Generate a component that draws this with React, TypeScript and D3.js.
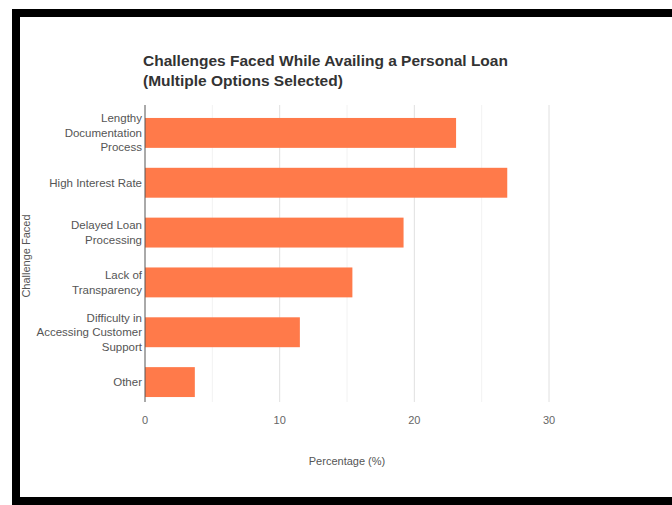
import React from "react";
import * as d3 from "d3";

const categories: string[][] = [
  ["Lengthy", "Documentation", "Process"],
  ["High Interest Rate"],
  ["Delayed Loan", "Processing"],
  ["Lack of", "Transparency"],
  ["Difficulty in", "Accessing Customer", "Support"],
  ["Other"],
];
const values: number[] = [23.1, 26.9, 19.2, 15.4, 11.5, 3.7];
const majorTicks: number[] = [0, 10, 20, 30];
const minorTicks: number[] = [5, 15, 25];
const titleLines = ["Challenges Faced While Availing a Personal Loan", "(Multiple Options Selected)"];
const xTitle = "Percentage (%)";
const yTitle = "Challenge Faced";

const W = 672;
const H = 505;
const left = 145;
const right = 549;
const top = 108;
const bottom = 407;

export default function App() {
  const x = d3.scaleLinear().domain([0, 30]).range([left, right]);
  const keys = categories.map((c) => c.join(" "));
  const y = d3.scaleBand<string>().domain(keys).range([top, bottom]).paddingInner(0.4).paddingOuter(0.2);
  const font = "'Liberation Sans', Arial, sans-serif";
  return (
    <svg width={W} height={H} style={{ position: "absolute", left: 0, top: 0, background: "#fff" }} fontFamily={font}>
      <rect x={0} y={0} width={W} height={H} fill="#fff" />
      {/* frame */}
      <rect x={12} y={9} width={8} height={H - 9} fill="#000" />
      <rect x={12} y={9} width={W - 12} height={8} fill="#000" />
      <rect x={12} y={497} width={W - 12} height={8} fill="#000" />
      {/* title */}
      {titleLines.map((t, i) => (
        <text key={i} x={143} y={66 + i * 20} fontSize={15.5} fontWeight="bold" fill="#333">
          {t}
        </text>
      ))}
      {/* grid */}
      {minorTicks.map((t) => (
        <line key={"m" + t} x1={x(t)} x2={x(t)} y1={105} y2={402} stroke="#f2f2f2" strokeWidth={1} />
      ))}
      {majorTicks.filter((t) => t > 0).map((t) => (
        <line key={"g" + t} x1={x(t)} x2={x(t)} y1={105} y2={402} stroke="#e0e0e0" strokeWidth={1} />
      ))}
      {/* bars */}
      {values.map((v, i) => (
        <rect key={i} x={x(0)} y={y(keys[i])} width={x(v) - x(0)} height={y.bandwidth()} fill="#FF7A4A" />
      ))}
      {/* y axis line */}
      <line x1={x(0)} x2={x(0)} y1={105} y2={402} stroke="#555" strokeWidth={1} />
      {/* y labels */}
      {categories.map((lines, i) => {
        const cy = (y(keys[i]) as number) + y.bandwidth() / 2;
        const lh = 14.5;
        const start = cy - ((lines.length - 1) * lh) / 2;
        return lines.map((ln, j) => (
          <text key={i + "-" + j} x={142} y={start + j * lh} dy="0.35em" textAnchor="end" fontSize={11.5} fill="#555">
            {ln}
          </text>
        ));
      })}
      {/* x tick labels */}
      {majorTicks.map((t) => (
        <text key={"t" + t} x={x(t)} y={420} dy="0.35em" textAnchor="middle" fontSize={11} fill="#666">
          {t}
        </text>
      ))}
      <text x={(left + right) / 2} y={461} dy="0.35em" textAnchor="middle" fontSize={11} fill="#555">
        {xTitle}
      </text>
      <text transform={`translate(26,256) rotate(-90)`} textAnchor="middle" dy="0.35em" fontSize={11} fill="#555">
        {yTitle}
      </text>
    </svg>
  );
}
